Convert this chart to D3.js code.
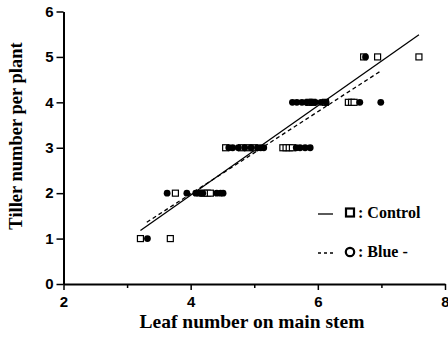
<!DOCTYPE html>
<html><head><meta charset="utf-8">
<script src="https://cdn.jsdelivr.net/npm/d3@7"></script>
<style>body{margin:0;background:#fff}svg{display:block}</style>
</head><body>
<svg id="c" width="448" height="341"></svg>
<script>
// Control (open squares): [leaf number, tillers]
const controlX = [3.21,3.68, 3.76,4.20,4.26,4.31, 4.55,4.80,4.90,5.00, 5.45,5.50,5.55,5.60, 5.86,5.92,6.12,6.48,6.53,6.57, 6.72,6.94,7.59];
const controlY = [1,1, 2,2,2,2, 3,3,3,3, 3,3,3,3, 4,4,4,4,4,4, 5,5,5];
// Blue- (filled circles)
const blueX = [3.32, 3.63,3.94,4.08,4.12,4.16,4.19,4.41,4.47,4.51, 4.60,4.66,4.75,4.85,4.95,5.05,5.10,5.15, 5.66,5.72,5.80,5.88, 5.60,5.67,5.75,5.82,5.90,5.96,6.05,6.13,6.66,6.99, 6.75];
const blueY = [1, 2,2,2,2,2,2,2,2,2, 3,3,3,3,3,3,3,3, 3,3,3,3, 4,4,4,4,4,4,4,4,4,4, 5];
// regression line endpoints
const controlFitX = [3.21, 7.59], controlFitY = [1.18, 5.49];
const blueFitX = [3.31, 6.99], blueFitY = [1.36, 4.69];
const xTicks = [2,4,6,8], xMinor = [3,5,7], yTicks = [0,1,2,3,4,5,6];
const legendLabels = [": Control", ": Blue -"];

const svg = d3.select("#c");
const x = d3.scaleLinear().domain([2,8]).range([63.5,445]);
const y = d3.scaleLinear().domain([0,6]).range([284,11.5]);
const fmt = d3.format("d");

// axes
svg.append("g").attr("transform","translate(0,284)")
  .call(d3.axisBottom(x).tickValues(xTicks).tickFormat(fmt).tickSize(6).tickPadding(6).tickSizeOuter(0));
svg.append("g").attr("transform","translate(0,284)")
  .call(d3.axisBottom(x).tickValues(xMinor).tickSize(4).tickFormat("").tickSizeOuter(0))
  .select(".domain").remove();
svg.append("g").attr("transform","translate(63.5,0)")
  .call(d3.axisLeft(y).tickValues(yTicks).tickFormat(fmt).tickSize(7).tickPadding(3).tickSizeOuter(0));
svg.selectAll(".domain").attr("stroke-width",2).attr("stroke","#000");
svg.selectAll(".tick line").attr("stroke-width",1.5).attr("stroke","#000");
svg.selectAll(".tick text").attr("font-family","Liberation Sans, Arial, sans-serif")
  .attr("font-weight","bold").attr("font-size",15).attr("fill","#000");

// regression lines
svg.append("line").attr("x1",x(controlFitX[0])).attr("y1",y(controlFitY[0]))
  .attr("x2",x(controlFitX[1])).attr("y2",y(controlFitY[1]))
  .attr("stroke","#000").attr("stroke-width",1.3);
svg.append("line").attr("x1",x(blueFitX[0])).attr("y1",y(blueFitY[0]))
  .attr("x2",x(blueFitX[1])).attr("y2",y(blueFitY[1]))
  .attr("stroke","#000").attr("stroke-width",1.3).attr("stroke-dasharray","4,3");

// points
const s = 6;
svg.append("g").selectAll("rect").data(controlX).join("rect")
  .attr("x",(d)=>x(d)-s/2).attr("y",(d,i)=>y(controlY[i])-s/2)
  .attr("width",s).attr("height",s).attr("fill","#fff").attr("stroke","#000").attr("stroke-width",1.2);
svg.append("g").selectAll("circle").data(blueX).join("circle")
  .attr("cx",(d)=>x(d)).attr("cy",(d,i)=>y(blueY[i])).attr("r",3.4).attr("fill","#000");

// legend
const lg = svg.append("g").attr("font-family","Liberation Serif, Times New Roman, serif")
  .attr("font-weight","bold").attr("font-size",16);
lg.append("line").attr("x1",318).attr("x2",333).attr("y1",214).attr("y2",214).attr("stroke","#000").attr("stroke-width",1.3);
lg.append("rect").attr("x",346).attr("y",208.5).attr("width",8).attr("height",8).attr("fill","#fff").attr("stroke","#000").attr("stroke-width",2.2);
lg.append("text").attr("x",358).attr("y",218).text(legendLabels[0]);
lg.append("line").attr("x1",318).attr("x2",334).attr("y1",253).attr("y2",253).attr("stroke","#000").attr("stroke-width",1.3).attr("stroke-dasharray","3,3");
lg.append("circle").attr("cx",350).attr("cy",252).attr("r",4.2).attr("fill","#fff").attr("stroke","#000").attr("stroke-width",2.2);
lg.append("text").attr("x",358).attr("y",257).text(legendLabels[1]);

// axis titles
svg.append("text").attr("x",252).attr("y",327.5).attr("text-anchor","middle")
  .attr("font-family","Liberation Serif, Times New Roman, serif").attr("font-weight","bold").attr("font-size",19.5)
  .text("Leaf number on main stem");
svg.append("text").attr("transform","translate(22,136) rotate(-90)").attr("text-anchor","middle")
  .attr("font-family","Liberation Serif, Times New Roman, serif").attr("font-weight","bold").attr("font-size",18.5)
  .text("Tiller number per plant");
</script>
</body></html>
